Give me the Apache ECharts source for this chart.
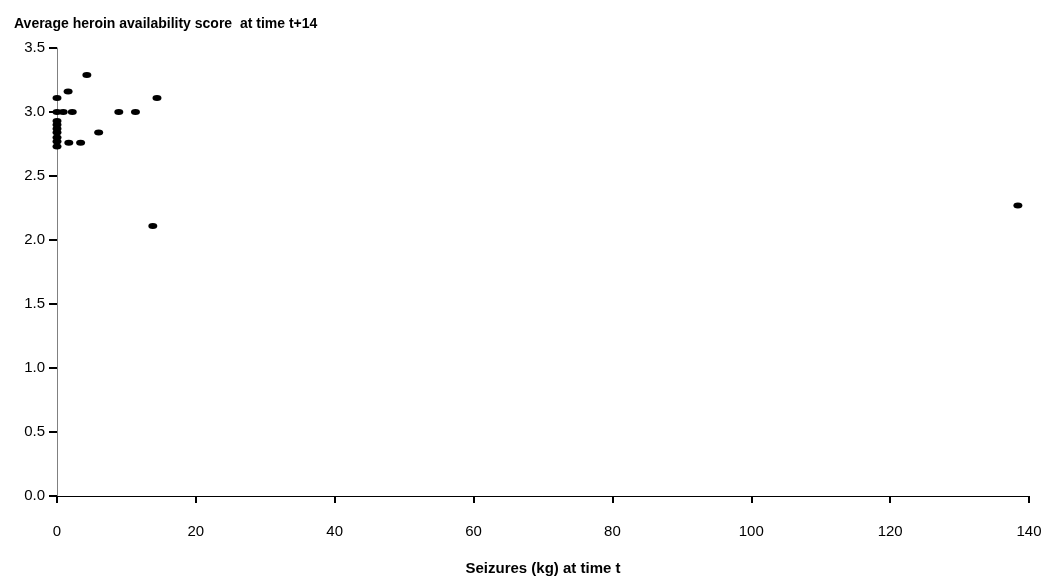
<!DOCTYPE html>
<html><head><meta charset="utf-8">
<script src="https://cdn.jsdelivr.net/npm/echarts@6/dist/echarts.min.js"></script>
<style>html,body{margin:0;padding:0;background:#fff}#c{width:1053px;height:581px}</style>
</head><body><div id="c"></div>
<script>
var seizuresKg = [4.3, 1.6, 0, 14.4, 0, 0.9, 2.2, 8.9, 11.3, 0, 0, 0, 0, 0, 0, 0, 6.0, 1.7, 3.4, 13.8, 138.4];
var availability = [3.29, 3.16, 3.11, 3.11, 3.0, 3.0, 3.0, 3.0, 3.0, 2.93, 2.90, 2.87, 2.84, 2.80, 2.77, 2.73, 2.84, 2.76, 2.76, 2.11, 2.27];
var xTicks = [0, 20, 40, 60, 80, 100, 120, 140];
var yTicks = ['0.0','0.5','1.0','1.5','2.0','2.5','3.0','3.5'];
var titleText = 'Average heroin availability score  at time t+14';
var xName = 'Seizures (kg) at time t';

var FONT = '"Liberation Sans Narrow", "Liberation Sans", Arial, sans-serif';
var pts = seizuresKg.map(function(x, i){ return [x, availability[i]]; });
var chart = echarts.init(document.getElementById('c'));
chart.setOption({
  animation: false,
  backgroundColor: '#fff',
  title: { text: titleText, left: 9, top: 12,
    textStyle: { fontFamily: FONT, fontSize: 14, fontWeight: 'bold', color: '#000' } },
  grid: { left: 57, right: 24, top: 48, bottom: 85 },
  xAxis: { type: 'value', min: 0, max: 140, interval: 20,
    name: xName, nameLocation: 'middle', nameGap: 65,
    nameTextStyle: { fontFamily: FONT, fontSize: 15, fontWeight: 'bold', color: '#000' },
    axisLine: { show: true, onZero: false, lineStyle: { color: '#000', width: 1 } },
    axisTick: { show: true, length: 7, lineStyle: { color: '#000', width: 2 } },
    axisLabel: { fontFamily: FONT, fontSize: 15, color: '#000', margin: 28,
      formatter: function(v){ return xTicks.indexOf(v) >= 0 ? String(v) : ''; } },
    splitLine: { show: false } },
  yAxis: { type: 'value', min: 0, max: 3.5, interval: 0.5,
    axisLine: { show: true, lineStyle: { color: '#808080', width: 1 } },
    axisTick: { show: true, length: 8, lineStyle: { color: '#000', width: 2 } },
    axisLabel: { fontFamily: FONT, fontSize: 15, color: '#000', margin: 12,
      formatter: function(v){ return yTicks[Math.round(v / 0.5)]; } },
    splitLine: { show: false } },
  series: [{ type: 'scatter', data: pts, symbol: 'circle', symbolSize: [9, 6],
    itemStyle: { color: '#000', opacity: 1 } }]
});
</script></body></html>
